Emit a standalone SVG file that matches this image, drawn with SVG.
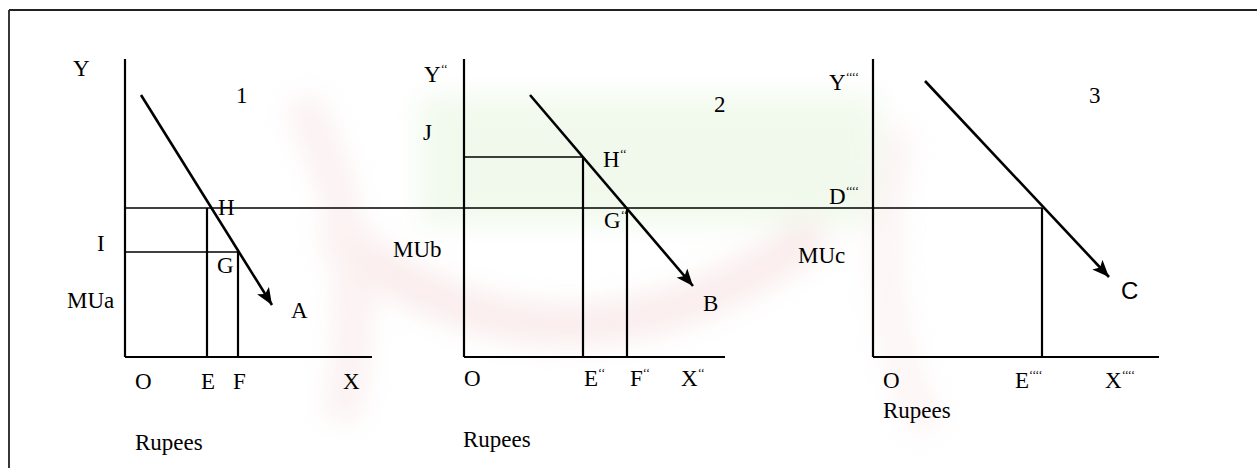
<svg xmlns="http://www.w3.org/2000/svg" width="1257" height="468" viewBox="0 0 1257 468">
<style>
text{font-family:"Liberation Serif","Times New Roman",serif;font-size:23px;fill:#000}
.sans{font-family:"Liberation Sans",Arial,sans-serif;font-size:24px}
.sup{font-size:12px}
.ax{stroke:#000;stroke-width:2.2;fill:none}
.gl{stroke:#000;stroke-width:1.6;fill:none}
.cv{stroke:#000;stroke-width:2.6;fill:none;marker-end:url(#ah)}
</style>
<defs>
<marker id="ah" markerUnits="userSpaceOnUse" markerWidth="18" markerHeight="14" refX="17" refY="7" orient="auto">
<path d="M0,0 L17,7 L0,14 L4,7 z" fill="#000"/>
</marker>
<filter id="blur" x="-20%" y="-20%" width="140%" height="140%"><feGaussianBlur stdDeviation="14"/></filter>
</defs>
<rect width="1257" height="468" fill="#fff"/>
<g id="watermark" filter="url(#blur)" opacity="0.4">
<rect x="420" y="95" width="460" height="130" fill="#dcf2d2"/>
<path d="M330,230 Q560,420 820,230" stroke="#f3d0d0" stroke-width="40" fill="none"/>
<path d="M300,100 Q380,250 340,420" stroke="#f6dcdc" stroke-width="36" fill="none"/>
<path d="M900,130 Q860,300 930,430" stroke="#f8e2e2" stroke-width="30" fill="none"/>
</g>
<g id="frame">
<line x1="9" y1="10" x2="1257" y2="10" stroke="#222" stroke-width="1.8"/>
<line x1="9" y1="10" x2="9" y2="468" stroke="#222" stroke-width="1.8"/>
</g>
<g id="connectors">
<line class="gl" x1="125" y1="208" x2="1042" y2="208"/>
<line class="cv" x1="141" y1="95" x2="272" y2="305"/>
<line class="cv" x1="530" y1="95" x2="693" y2="286"/>
<line class="cv" x1="925" y1="81" x2="1109" y2="277"/>
</g>
<g id="panel1">
<line class="ax" x1="125" y1="59" x2="125" y2="357"/>
<line class="ax" x1="125" y1="357" x2="372" y2="357"/>
<line class="gl" x1="125" y1="252" x2="238" y2="252"/>
<line class="ax" x1="207" y1="208" x2="207" y2="357"/>
<line class="ax" x1="238" y1="252" x2="238" y2="357"/>
<text x="73" y="76">Y</text>
<text x="236" y="103">1</text>
<text x="218" y="215">H</text>
<text x="97" y="251">I</text>
<text x="217" y="273">G</text>
<text x="67" y="308">MUa</text>
<text x="291" y="318">A</text>
<text x="135" y="389">O</text>
<text x="201" y="389">E</text>
<text x="233" y="389">F</text>
<text x="343" y="389">X</text>
<text x="135" y="450">Rupees</text>
</g>
<g id="panel2">
<line class="ax" x1="464" y1="59" x2="464" y2="357"/>
<line class="ax" x1="464" y1="357" x2="725" y2="357"/>
<line class="gl" x1="464" y1="157" x2="583" y2="157"/>
<line class="ax" x1="583" y1="157" x2="583" y2="357"/>
<line class="ax" x1="627" y1="208" x2="627" y2="357"/>
<text x="424" y="82">Y<tspan class="sup" dy="-9">‘‘</tspan></text>
<text x="423" y="140">J</text>
<text x="714" y="112">2</text>
<text x="603" y="167">H<tspan class="sup" dy="-9">‘‘</tspan></text>
<text x="604" y="228">G<tspan class="sup" dy="-9">‘‘</tspan></text>
<text x="393" y="257">MUb</text>
<text x="703" y="311">B</text>
<text x="464" y="386">O</text>
<text x="584" y="386">E<tspan class="sup" dy="-9">‘‘</tspan></text>
<text x="630" y="386">F<tspan class="sup" dy="-9">‘‘</tspan></text>
<text x="681" y="386">X<tspan class="sup" dy="-9">‘‘</tspan></text>
<text x="463" y="447">Rupees</text>
</g>
<g id="panel3">
<line class="ax" x1="873" y1="59" x2="873" y2="357"/>
<line class="ax" x1="873" y1="357" x2="1159" y2="357"/>
<line class="ax" x1="1042" y1="208" x2="1042" y2="357"/>
<text x="829" y="90">Y<tspan class="sup" dy="-9">‘‘‘‘</tspan></text>
<text x="829" y="204">D<tspan class="sup" dy="-9">‘‘‘‘</tspan></text>
<text x="1089" y="103">3</text>
<text x="798" y="263">MUc</text>
<text class="sans" x="1121" y="299">C</text>
<text x="883" y="388">O</text>
<text x="1015" y="388">E<tspan class="sup" dy="-9">‘‘‘‘</tspan></text>
<text x="1105" y="388">X<tspan class="sup" dy="-9">‘‘‘‘</tspan></text>
<text x="883" y="418">Rupees</text>
</g>
</svg>
